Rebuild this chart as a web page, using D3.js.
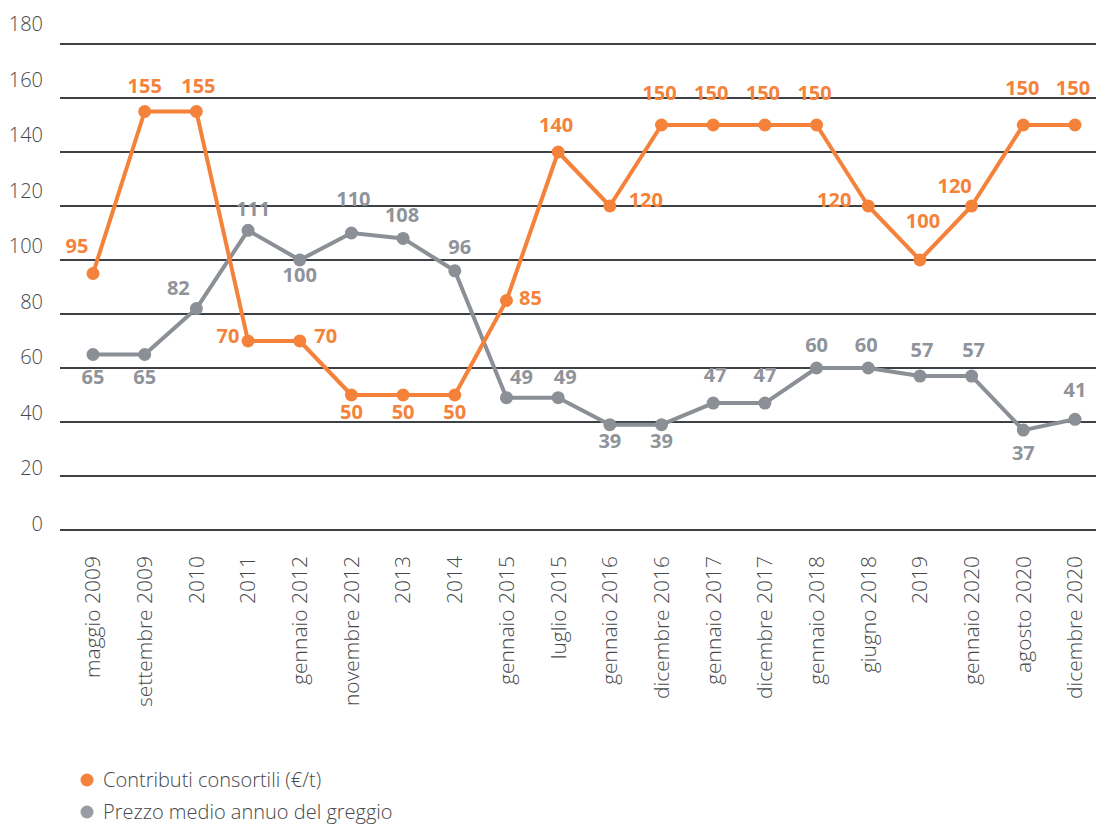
<!DOCTYPE html>
<html lang="it">
<head>
<meta charset="utf-8">
<title>Contributi consortili e prezzo del greggio</title>
<script src="https://cdn.jsdelivr.net/npm/d3@7"></script>
<style>
  html, body { margin: 0; padding: 0; background: #ffffff; }
  svg { display: block; font-family: "Open Sans", "Noto Sans", sans-serif; }
</style>
</head>
<body>
<svg id="chart" width="1096" height="824"></svg>
<script>
// Periodi sull'asse orizzontale
const categories = [
  "maggio 2009", "settembre 2009", "2010", "2011", "gennaio 2012",
  "novembre 2012", "2013", "2014", "gennaio 2015", "luglio 2015",
  "gennaio 2016", "dicembre 2016", "gennaio 2017", "dicembre 2017", "gennaio 2018",
  "giugno 2018", "2019", "gennaio 2020", "agosto 2020", "dicembre 2020"
];

// Contributi consortili (€/t)
const contributi = [95, 155, 155, 70, 70, 50, 50, 50, 85, 140, 120, 150, 150, 150, 150, 120, 100, 120, 150, 150];

// Prezzo medio annuo del greggio
const prezzo = [65, 65, 82, 111, 100, 110, 108, 96, 49, 49, 39, 39, 47, 47, 60, 60, 57, 57, 37, 41];

// Tacche dell'asse verticale
const yTicks = [0, 20, 40, 60, 80, 100, 120, 140, 160, 180];

// Nomi delle serie in legenda
const seriesNames = ["Contributi consortili (€/t)", "Prezzo medio annuo del greggio"];

// Spostamento [dx, dy] di ogni etichetta di valore rispetto al proprio punto
const contributiLabelShift = [
  [-16, -21], [0, -19], [2, -19], [-20, 2], [26, 2],
  [0, 24], [0, 24], [0, 24], [24, 4], [-2, -20],
  [36, 1], [-2, -25], [-2, -25], [-2, -25], [-2, -25],
  [-34, 1], [3, -32], [-17, -13], [-1, -30], [-2, -30]
];
const prezzoLabelShift = [
  [0, 29], [0, 29], [-18, -14], [5, -14], [0, 22],
  [2, -27], [-1, -16], [5, -17], [15, -14], [7, -14],
  [0, 23], [0, 23], [2, -21], [0, -21], [0, -16],
  [-2, -16], [2, -19], [2, -19], [0, 30], [0, -22]
];

const ORANGE = "#f5823a";
const GREY = "#8b8f96";
const GREY_LABEL = "#8f939a";
const GRID = "#3d4045";
const TEXT = "#46484c";

const svg = d3.select("#chart");

const x = d3.scalePoint().domain(categories).range([93, 1075]);
const y = d3.scaleLinear().domain([0, 180]).range([530, 44]);
const yLabel = d3.scaleLinear().domain([0, 180]).range([524, 24]);

// Griglia orizzontale
svg.append("g")
  .selectAll("line")
  .data(yTicks)
  .join("line")
  .attr("x1", 60)
  .attr("x2", 1096)
  .attr("y1", d => y(d))
  .attr("y2", d => y(d))
  .attr("stroke", GRID)
  .attr("stroke-width", 2);

// Etichette dell'asse verticale
svg.append("g")
  .selectAll("text")
  .data(yTicks)
  .join("text")
  .attr("x", 43)
  .attr("y", d => yLabel(d))
  .attr("dy", "0.35em")
  .attr("text-anchor", "end")
  .attr("fill", TEXT)
  .attr("font-size", 20)
  .attr("font-weight", 300)
  .text(d => d);

// Etichette dell'asse orizzontale, ruotate
svg.append("g")
  .selectAll("text")
  .data(categories)
  .join("text")
  .attr("transform", d => `translate(${x(d)},556) rotate(-90)`)
  .attr("dy", "0.35em")
  .attr("text-anchor", "end")
  .attr("fill", TEXT)
  .attr("font-size", 21)
  .attr("font-weight", 300)
  .text(d => d);

const line = d3.line()
  .x((d, i) => x(categories[i]))
  .y(d => y(d));

function drawSeries(values, color) {
  const g = svg.append("g");
  g.append("path")
    .datum(values)
    .attr("d", line)
    .attr("fill", "none")
    .attr("stroke", color)
    .attr("stroke-width", 4)
    .attr("stroke-linejoin", "round");
  g.selectAll("circle")
    .data(values)
    .join("circle")
    .attr("cx", (d, i) => x(categories[i]))
    .attr("cy", d => y(d))
    .attr("r", 6.5)
    .attr("fill", color);
  return g;
}

function drawLabels(values, labelColor, shifts) {
  svg.append("g")
    .selectAll("text")
    .data(values)
    .join("text")
    .attr("x", (d, i) => x(categories[i]) + shifts[i][0])
    .attr("y", (d, i) => y(d) + shifts[i][1])
    .attr("text-anchor", "middle")
    .attr("fill", labelColor)
    .attr("font-size", 20)
    .attr("font-weight", 700)
    .text(d => d);
}

drawSeries(prezzo, GREY);
drawSeries(contributi, ORANGE);
drawLabels(prezzo, GREY_LABEL, prezzoLabelShift);
drawLabels(contributi, ORANGE, contributiLabelShift);

// Legenda
const legend = svg.append("g")
  .selectAll("g")
  .data(seriesNames)
  .join("g")
  .attr("transform", (d, i) => `translate(87,${780 + i * 32})`);

legend.append("circle")
  .attr("r", 6.5)
  .attr("fill", (d, i) => i === 0 ? ORANGE : "#989ca3");

legend.append("text")
  .attr("x", 16)
  .attr("dy", "0.35em")
  .attr("fill", TEXT)
  .attr("font-size", 20)
  .attr("font-weight", 300)
  .text(d => d);
</script>
</body>
</html>
